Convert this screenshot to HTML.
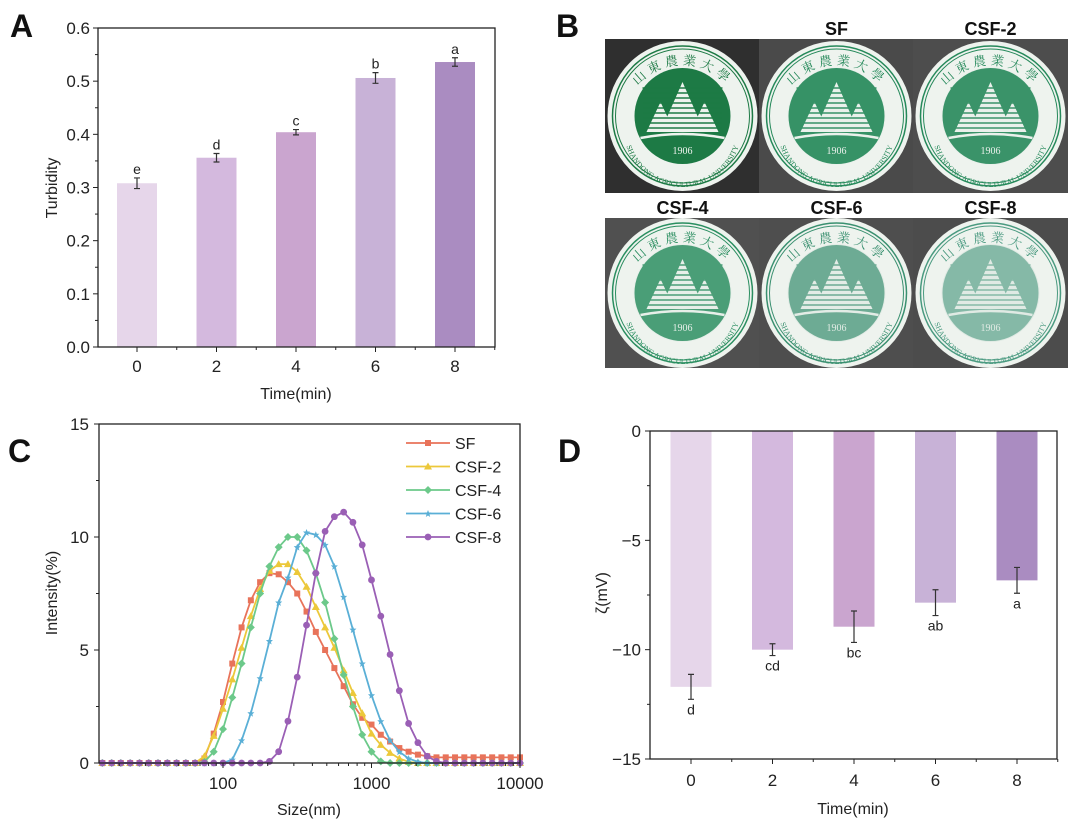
<!DOCTYPE html>
<html><head><meta charset="utf-8"><style>
html,body{margin:0;padding:0;background:#fff;}
svg{display:block;font-family:"Liberation Sans",Arial,sans-serif;}
</style></head><body>
<svg id="fig" width="1080" height="835" viewBox="0 0 1080 835" xmlns="http://www.w3.org/2000/svg">
<g font-weight="bold" font-size="32" fill="#111">
<text x="10" y="37">A</text>
<text x="556" y="37">B</text>
<text x="8" y="462">C</text>
<text x="558" y="462">D</text>
</g>
<g id="pa"></g>
<g id="pb"></g>
<g id="pc"></g>
<g id="pd"></g>
</svg>
<script>
// ---- Data ----
const timeCats = ['0','2','4','6','8'];
const barColors = ['#e6d6ea','#d4b9de','#caa5cf','#c8b2d7','#aa8cc1'];
const turbidity = [0.308, 0.356, 0.404, 0.506, 0.536];
const turbidityErr = [0.010, 0.008, 0.005, 0.010, 0.008];
const turbidityLetters = ['e','d','c','b','a'];
const turbidityTicks = [0,0.1,0.2,0.3,0.4,0.5,0.6];
const zeta = [-11.7, -10.0, -8.95, -7.85, -6.83];
const zetaErr = [0.57, 0.27, 0.72, 0.59, 0.59];
const zetaLetters = ['d','cd','bc','ab','a'];
const zetaTicks = [0,-5,-10,-15];
const sizes = [15.4,17.8,20.5,23.7,27.4,31.6,36.5,42.2,48.7,56.2,64.9,75.0,86.6,100,115.5,133.4,154.0,177.8,205.4,237.1,273.8,316.2,365.2,421.7,487.0,562.3,649.4,749.9,866.0,1000,1155,1334,1540,1778,2054,2371,2738,3162,3652,4217,4870,5623,6494,7499,8660,10000];
const seriesNames = ['SF','CSF-2','CSF-4','CSF-6','CSF-8'];
const seriesColors = ['#e8735a','#ecc83a','#6cc98a','#5aafd6','#9a5fb5'];
const sfVals =   [0,0,0,0,0,0,0,0,0,0,0,0.2,1.3,2.7,4.4,6.0,7.2,8.0,8.4,8.35,8.0,7.5,6.7,5.8,5.0,4.2,3.4,2.6,2.0,1.7,1.25,0.95,0.66,0.5,0.37,0.3,0.25,0.25,0.25,0.25,0.25,0.25,0.25,0.25,0.25,0.25];
const csf2Vals = [0,0,0,0,0,0,0,0,0,0,0,0.3,1.2,2.4,3.7,5.1,6.5,7.7,8.5,8.8,8.8,8.45,7.8,6.9,6.0,5.1,4.1,3.1,2.2,1.3,0.8,0.45,0.2,0.05,0,0,0,0,0,0,0,0,0,0,0,0];
const csf4Vals = [0,0,0,0,0,0,0,0,0,0,0,0.05,0.5,1.5,2.9,4.4,6.0,7.5,8.7,9.55,10.0,10.0,9.4,8.4,7.1,5.5,3.9,2.5,1.25,0.5,0.07,0,0,0,0,0,0,0,0,0,0,0,0,0,0,0];
const csf6Vals = [0,0,0,0,0,0,0,0,0,0,0,0,0,0,0.15,1.0,2.2,3.75,5.4,7.1,8.2,9.55,10.2,10.1,9.65,8.7,7.35,5.9,4.4,3.0,1.85,1.0,0.5,0.2,0.05,0,0,0,0,0,0,0,0,0,0,0];
const csf8Vals = [0,0,0,0,0,0,0,0,0,0,0,0,0,0,0,0,0,0,0.07,0.5,1.85,3.8,6.1,8.4,10.25,10.9,11.1,10.65,9.65,8.1,6.5,4.8,3.2,1.75,0.9,0.3,0.07,0,0,0,0,0,0,0,0,0];
const intensityTicks = [0,5,10,15];
const sizeTicks = [100,1000,10000];

const NS='http://www.w3.org/2000/svg';
function mk(parent,tag,attrs,text){const e=document.createElementNS(NS,tag);for(const k in attrs)e.setAttribute(k,attrs[k]);if(text!==undefined)e.textContent=text;parent.appendChild(e);return e;}

// ---- Panel A ----
(function(){
  const g=document.getElementById('pa');
  const L=98,R=495,T=28,B=347;
  const y=v=>B-(v-0)/0.6*(B-T);
  const x=i=>137+i*79.5;
  turbidity.forEach((v,i)=>{
    const r=mk(g,'rect',{x:x(i)-20,y:y(v),width:40,height:B-y(v),fill:barColors[i]});
    
    
    const e=turbidityErr[i];
    const eb=mk(g,'path',{d:`M${x(i)} ${y(v+e)}V${y(v-e)}M${x(i)-3} ${y(v+e)}h6M${x(i)-3} ${y(v-e)}h6`,stroke:'#333','stroke-width':1.2,fill:'none'});
    
    
    const t=mk(g,'text',{x:x(i),y:y(v+e)-4,'text-anchor':'middle','font-size':14,fill:'#222'},turbidityLetters[i]);
    
    
  });
  mk(g,'rect',{x:L,y:T,width:R-L,height:B-T,fill:'none',stroke:'#222','stroke-width':1.3});
  turbidityTicks.forEach(v=>{
    mk(g,'line',{x1:L-5,x2:L,y1:y(v),y2:y(v),stroke:'#222'});
    const t=mk(g,'text',{x:L-8,y:y(v)+6,'text-anchor':'end','font-size':17,fill:'#222'},v.toFixed(1));
    
    
    if(v<0.6) mk(g,'line',{x1:L-3,x2:L,y1:y(v+0.05),y2:y(v+0.05),stroke:'#222'});
  });
  timeCats.forEach((c,i)=>{
    mk(g,'line',{x1:x(i),x2:x(i),y1:B,y2:B+5,stroke:'#222'});
    mk(g,'line',{x1:x(i)+39.75,x2:x(i)+39.75,y1:B,y2:B+3,stroke:'#222'});
    const t=mk(g,'text',{x:x(i),y:B+25,'text-anchor':'middle','font-size':17,fill:'#222'},c);
    
    
  });
  const xt=mk(g,'text',{x:296,y:399,'text-anchor':'middle','font-size':16,fill:'#222'},'Time(min)');
  
  
  const yt=mk(g,'text',{x:0,y:0,transform:'translate(57,188) rotate(-90)','text-anchor':'middle','font-size':16,fill:'#222'},'Turbidity');
  
  
})();

// ---- Panel B ----
(function(){
  const g=document.getElementById('pb');
  const cells=[
    {x:605,y:39,label:'',bg:'#2f2f2f',gr:'#1d7a45',fade:0},
    {x:759,y:39,label:'SF',bg:'#4a4a4a',gr:'#25895a',fade:0.1},
    {x:913,y:39,label:'CSF-2',bg:'#4d4d4d',gr:'#26895b',fade:0.12},
    {x:605,y:218,label:'CSF-4',bg:'#505050',gr:'#2a8e60',fade:0.2},
    {x:759,y:218,label:'CSF-6',bg:'#4e4e4e',gr:'#3a9070',fade:0.35},
    {x:913,y:218,label:'CSF-8',bg:'#4c4c4c',gr:'#4a9a80',fade:0.45}];
  cells.forEach((c,i)=>{
    const cg=mk(g,'g',{});
    
    
    const w=155,h=(i<3?154:150);
    mk(cg,'rect',{x:c.x,y:c.y,width:w,height:h,fill:c.bg});
    const cx=c.x+w/2, cy=c.y+h/2;
    mk(cg,'circle',{cx,cy,r:75,fill:'#eef3ee'});
    mk(cg,'circle',{cx,cy,r:70,fill:'none',stroke:c.gr,'stroke-width':1.5});
    mk(cg,'circle',{cx,cy,r:67,fill:'none',stroke:c.gr,'stroke-width':1});
    mk(cg,'circle',{cx,cy,r:48,fill:c.gr});
    const tri=(px,top,hw)=>`M${cx+px} ${cy+top}L${cx+px+hw} ${cy+16}L${cx+px-hw} ${cy+16}Z`;
    mk(cg,'path',{d:tri(-22,-14,14)+tri(0,-34,22)+tri(22,-14,14),fill:'#eef3ee'});
    for(let k=0;k<9;k++) mk(cg,'line',{x1:cx-40,x2:cx+40,y1:cy-28+k*5,y2:cy-28+k*5,stroke:c.gr,'stroke-width':1.6});
    mk(cg,'path',{d:`M${cx-42} ${cy+22}Q${cx} ${cy+14} ${cx+42} ${cy+22}`,stroke:'#eef3ee','stroke-width':2.5,fill:'none'});
    mk(cg,'text',{x:cx,y:cy+38,'text-anchor':'middle','font-size':10,fill:'#eef3ee','font-family':'Liberation Serif,serif'},'1906');
    mk(cg,'path',{id:'arcb'+i,d:`M${cx-59} ${cy+12}A59 59 0 0 0 ${cx+59} ${cy+12}`,fill:'none'});
    const tp=mk(cg,'text',{'font-size':7.5,fill:c.gr,'font-family':'Liberation Serif,serif'});
    mk(tp,'textPath',{href:'#arcb'+i,startOffset:'50%','text-anchor':'middle'},'SHANDONG AGRICULTURAL UNIVERSITY');
    mk(cg,'path',{id:'arct'+i,d:`M${cx-59} ${cy+8}A59 59 0 0 1 ${cx+59} ${cy+8}`,fill:'none'});
    const tt=mk(cg,'text',{'font-size':13,fill:c.gr,'font-family':'Noto Serif CJK SC,serif','letter-spacing':'4'});
    mk(tt,'textPath',{href:'#arct'+i,startOffset:'50%','text-anchor':'middle'},'山東農業大學');
    if(c.fade>0) mk(cg,'circle',{cx,cy,r:49,fill:'#cfe0d8',opacity:c.fade});
    if(c.label){
      const t=mk(g,'text',{x:cx,y:c.y-4,'text-anchor':'middle','font-size':18,'font-weight':'bold',fill:'#111'},c.label);
      
      
    }
  });
})();

// ---- Panel C ----
(function(){
  const g=document.getElementById('pc');
  const L=99,R=520,T=424,B=763;
  const x=s=>223+(Math.log10(s)-2)*148.5;
  const y=v=>B-v/15*(B-T);
  const all=[sfVals,csf2Vals,csf4Vals,csf6Vals,csf8Vals];
  const shape=(k,cx,cy,col)=>{
    if(k===0) return mk(g,'rect',{x:cx-3,y:cy-3,width:6,height:6,fill:col});
    if(k===1) return mk(g,'path',{d:`M${cx} ${cy-4}L${cx+4} ${cy+3}L${cx-4} ${cy+3}Z`,fill:col});
    if(k===2) return mk(g,'path',{d:`M${cx} ${cy-4}L${cx+4} ${cy}L${cx} ${cy+4}L${cx-4} ${cy}Z`,fill:col});
    if(k===3) return mk(g,'path',{d:`M${cx} ${cy-3.5}L${cx+1} ${cy-1}L${cx+3.5} ${cy-1}L${cx+1.5} ${cy+1}L${cx+2.2} ${cy+3.5}L${cx} ${cy+2}L${cx-2.2} ${cy+3.5}L${cx-1.5} ${cy+1}L${cx-3.5} ${cy-1}L${cx-1} ${cy-1}Z`,fill:col});
    return mk(g,'circle',{cx,cy,r:3.4,fill:col});
  };
  all.forEach((vals,k)=>{
    const d=vals.map((v,i)=>(i?'L':'M')+x(sizes[i]).toFixed(1)+' '+y(v).toFixed(1)).join('');
    const p=mk(g,'path',{d,fill:'none',stroke:seriesColors[k],'stroke-width':1.8});
    
    
    vals.forEach((v,i)=>{
      const m=shape(k,x(sizes[i]),y(v),seriesColors[k]);
      
      
    });
  });
  mk(g,'rect',{x:L,y:T,width:R-L,height:B-T,fill:'none',stroke:'#222','stroke-width':1.3});
  intensityTicks.forEach(v=>{
    mk(g,'line',{x1:L-5,x2:L,y1:y(v),y2:y(v),stroke:'#222'});
    if(v<15) mk(g,'line',{x1:L-3,x2:L,y1:y(v+2.5),y2:y(v+2.5),stroke:'#222'});
    const t=mk(g,'text',{x:L-10,y:y(v)+6,'text-anchor':'end','font-size':17,fill:'#222'},String(v));
    
    
  });
  for(let dec=10;dec<10000;dec*=10){for(let m=1;m<10;m++){const s=dec*m;const px=x(s);if(px<L||px>R)continue;mk(g,'line',{x1:px,x2:px,y1:B,y2:B+(m===1?5:3),stroke:'#222'});}}
  sizeTicks.forEach(s=>{
    mk(g,'line',{x1:x(s),x2:x(s),y1:B,y2:B+5,stroke:'#222'});
    const t=mk(g,'text',{x:x(s),y:B+26,'text-anchor':'middle','font-size':17,fill:'#222'},String(s));
    
    
  });
  const xt=mk(g,'text',{x:309,y:815,'text-anchor':'middle','font-size':16,fill:'#222'},'Size(nm)');
  
  
  const yt=mk(g,'text',{x:0,y:0,transform:'translate(57,593) rotate(-90)','text-anchor':'middle','font-size':16,fill:'#222'},'Intensity(%)');
  
  
  seriesNames.forEach((n,k)=>{
    const ly=443+k*23.5;
    const lg=mk(g,'g',{});
    
    
    mk(lg,'line',{x1:406,x2:450,y1:ly,y2:ly,stroke:seriesColors[k],'stroke-width':1.8});
    const m=shape(k,428,ly,seriesColors[k]); lg.appendChild(m);
    mk(lg,'text',{x:455,y:ly+6,'font-size':16,fill:'#222'},n);
  });
})();

// ---- Panel D ----
(function(){
  const g=document.getElementById('pd');
  const L=650,R=1057,T=431,B=759;
  const y=v=>T+(-v)/15*(B-T);
  const x=i=>691+i*81.5;
  zeta.forEach((v,i)=>{
    const r=mk(g,'rect',{x:x(i)-20.5,y:T,width:41,height:y(v)-T,fill:barColors[i]});
    
    
    const e=zetaErr[i];
    const eb=mk(g,'path',{d:`M${x(i)} ${y(v+e)}V${y(v-e)}M${x(i)-3} ${y(v+e)}h6M${x(i)-3} ${y(v-e)}h6`,stroke:'#333','stroke-width':1.2,fill:'none'});
    
    
    const t=mk(g,'text',{x:x(i),y:y(v-e)+15,'text-anchor':'middle','font-size':14,fill:'#222'},zetaLetters[i]);
    
    
  });
  mk(g,'rect',{x:L,y:T,width:R-L,height:B-T,fill:'none',stroke:'#222','stroke-width':1.3});
  zetaTicks.forEach(v=>{
    mk(g,'line',{x1:L-5,x2:L,y1:y(v),y2:y(v),stroke:'#222'});
    if(v>-15) mk(g,'line',{x1:L-3,x2:L,y1:y(v-2.5),y2:y(v-2.5),stroke:'#222'});
    const t=mk(g,'text',{x:L-9,y:y(v)+6,'text-anchor':'end','font-size':17,fill:'#222'},v<0?'\u2212'+(-v):String(v));
    
    
  });
  timeCats.forEach((c,i)=>{
    mk(g,'line',{x1:x(i),x2:x(i),y1:B,y2:B+5,stroke:'#222'});
    mk(g,'line',{x1:x(i)+40.75,x2:x(i)+40.75,y1:B,y2:B+3,stroke:'#222'});
    const t=mk(g,'text',{x:x(i),y:B+27,'text-anchor':'middle','font-size':17,fill:'#222'},c);
    
    
  });
  const xt=mk(g,'text',{x:853,y:814,'text-anchor':'middle','font-size':16,fill:'#222'},'Time(min)');
  
  
  const yt=mk(g,'text',{x:0,y:0,transform:'translate(607,593) rotate(-90)','text-anchor':'middle','font-size':16,fill:'#222'},'ζ(mV)');
  
  
})();
</script>
</body></html>
